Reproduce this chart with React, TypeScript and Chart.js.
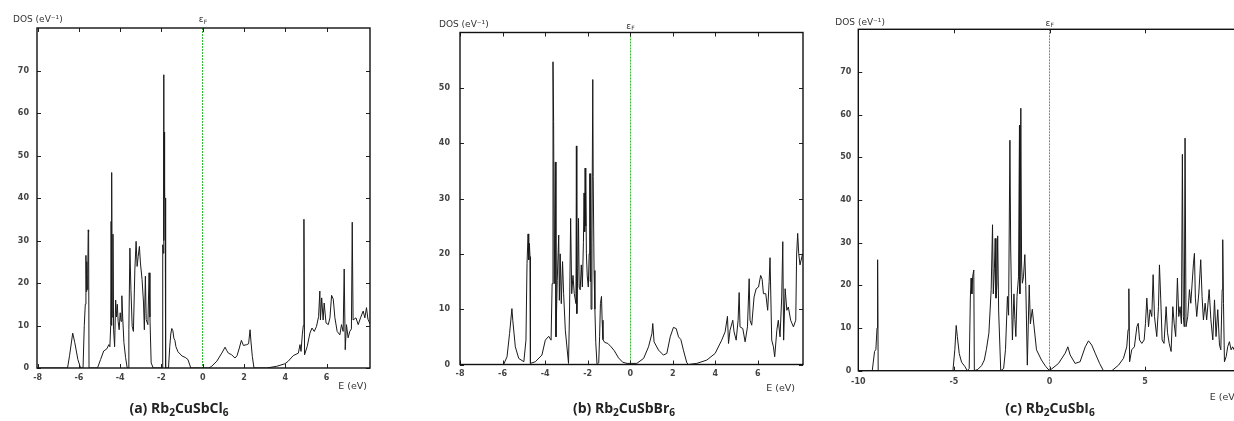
import React, { useEffect, useRef } from "react";
import { Chart, registerables } from "chart.js";

Chart.register(...registerables);

// ---------- Panel (a) Rb2CuSbCl6 ----------
const energyA = [
  -8, -6.55, -6.45, -6.3, -6.2, -6.05, -5.92, -5.8, -5.74, -5.69,
  -5.66, -5.64, -5.62, -5.6, -5.57, -5.55, -5.53, -5.51, -5.1, -4.95,
  -4.8, -4.65, -4.55, -4.5, -4.46, -4.44, -4.42, -4.405, -4.39, -4.35,
  -4.32, -4.27, -4.22, -4.18, -4.14, -4.1, -4.05, -4.0, -3.96, -3.92,
  -3.88, -3.82, -3.74, -3.66, -3.62, -3.58, -3.53, -3.48, -3.42, -3.36,
  -3.29, -3.23, -3.18, -3.13, -3.07, -3.02, -2.94, -2.87, -2.83, -2.78,
  -2.74, -2.66, -2.6, -2.56, -2.5, -2.4, -1.95, -1.94, -1.91, -1.895,
  -1.88, -1.87, -1.85, -1.82, -1.81, -1.79, -1.66, -1.6, -1.55, -1.5,
  -1.45, -1.4, -1.35, -1.3, -1.2, -1.0, -0.85, -0.72, -0.58, 0.3,
  0.43, 0.68, 0.92, 1.08, 1.16, 1.24, 1.4, 1.56, 1.66, 1.77,
  1.87, 1.97, 2.13, 2.22, 2.29, 2.34, 2.4, 2.48, 3.1, 3.58,
  3.98, 4.14, 4.38, 4.63, 4.71, 4.76, 4.82, 4.87, 4.9, 4.93,
  5.06, 5.19, 5.29, 5.4, 5.51, 5.61, 5.67, 5.7, 5.76, 5.83,
  5.88, 5.97, 6.08, 6.16, 6.24, 6.32, 6.4, 6.51, 6.64, 6.72,
  6.8, 6.85, 6.9, 6.96, 7.04, 7.12, 7.2, 7.24, 7.28, 7.42,
  7.53, 7.64, 7.77, 7.85, 7.93, 8.0, 8.1,
];
const dosA = [
  0, 0, 3, 8.2, 6, 2, 0, 0, 10, 15,
  26.5, 18, 25, 18.5, 22, 32.5, 32, 0, 0, 2,
  4, 4.5, 5.5, 5, 10, 34.5, 10, 46, 12, 31.5,
  9, 5, 16, 12, 15, 11, 9, 13, 11, 17,
  12, 6, 2.5, 0, 0, 9, 28.2, 18.4, 9.8, 8.6,
  23.1, 29.8, 23.9, 26.2, 28.6, 24.7, 20.8, 15.3, 9, 21.6,
  11.4, 10.2, 22.4, 12, 1.2, 0, 0, 29, 27, 69,
  30, 55.5, 40, 40, 28, 0, 0, 5, 8, 9.3,
  8.8, 7, 6.5, 5, 3.8, 2.8, 2.5, 2, 0, 0,
  0.4, 1.6, 3.5, 4.9, 4.1, 3.5, 3.1, 2.35, 2.9, 4.7,
  6.5, 5.3, 5.5, 5.7, 9, 5.9, 2.75, 0, 0, 0.4,
  1, 1.6, 2.9, 3.5, 5.5, 3.9, 7.8, 10, 35, 3.1,
  5.1, 8.2, 9.4, 8.6, 9.8, 12.1, 18.1, 11.3, 16.5, 11.3,
  15.3, 10.6, 10.2, 11.8, 17.1, 16.2, 11.8, 8.6, 7.8, 10.2,
  8.6, 23.3, 4.3, 10.2, 7.1, 8.6, 9.2, 34.3, 11.3, 11.8,
  10.2, 11.8, 13.4, 11.8, 14.2, 11.5, 10.4,
];

// ---------- Panel (b) Rb2CuSbBr6 ----------
const energyB = [
  -8, -5.95, -5.79, -5.67, -5.56, -5.52, -5.4, -5.24, -5.0, -4.9,
  -4.85, -4.8, -4.77, -4.74, -4.71, -4.69, -4.46, -4.15, -3.99, -3.83,
  -3.72, -3.67, -3.63, -3.6, -3.57, -3.52, -3.49, -3.43, -3.36, -3.33,
  -3.29, -3.24, -3.18, -3.13, -3.05, -2.9, -2.85, -2.8, -2.75, -2.69,
  -2.63, -2.55, -2.53, -2.51, -2.46, -2.43, -2.4, -2.35, -2.3, -2.25,
  -2.2, -2.17, -2.14, -2.12, -2.1, -2.08, -2.06, -2.02, -1.97, -1.93,
  -1.9, -1.88, -1.86, -1.84, -1.8, -1.76, -1.74, -1.7, -1.66, -1.62,
  -1.56, -1.48, -1.44, -1.4, -1.35, -1.32, -1.28, -1.2, -1.05, -0.9,
  -0.75, -0.55, -0.35, -0.15, 0.31, 0.63, 0.86, 1.02, 1.06, 1.12,
  1.33, 1.56, 1.72, 1.88, 2.03, 2.16, 2.27, 2.38, 2.5, 2.66,
  2.74, 3.13, 3.6, 3.99, 4.3, 4.46, 4.57, 4.62, 4.69, 4.82,
  4.88, 4.98, 5.07, 5.12, 5.16, 5.29, 5.4, 5.51, 5.59, 5.63,
  5.71, 5.82, 5.92, 6.03, 6.13, 6.2, 6.26, 6.37, 6.46, 6.53,
  6.57, 6.65, 6.73, 6.79, 6.89, 6.96, 7.04, 7.12, 7.17, 7.21,
  7.28, 7.36, 7.43, 7.54, 7.67, 7.78, 7.82, 7.87, 7.92, 7.98,
  8.1,
];
const dosB = [
  0, 0, 1.4, 5.6, 10.1, 8, 3.2, 1.1, 0.5, 4.4,
  18.3, 23.6, 18.9, 21.9, 19.5, 0.2, 0.5, 1.7, 4.4, 5.1,
  4.4, 14.6, 54.7, 43.9, 14.6, 36.6, 5, 15.2, 23.4, 11.6,
  20, 11, 18.6, 12.8, 6.2, 0.2, 10.4, 26.4, 12.8, 16.1,
  12.8, 11, 39.5, 9.2, 18, 26.4, 14, 13.5, 18, 14,
  22, 31, 24, 35.5, 25, 33, 20, 16, 14, 20,
  34.5, 15, 34.5, 10, 22, 51.5, 34, 17, 10, 4,
  0, 0.3, 5, 11, 12.3, 8, 4.5, 4, 3.8, 3.2,
  2.5, 1.2, 0.4, 0.2, 0.2, 1.1, 3.2, 5.6, 7.4, 4.1,
  2.6, 1.7, 2, 5, 6.7, 6.5, 5, 4.5, 2.6, 0.3,
  0, 0.2, 0.8, 2, 4.4, 5.9, 8.7, 3.8, 6.2, 8,
  5.9, 4.4, 8, 13, 6.8, 6.5, 4.1, 6.8, 15.5, 8,
  7.1, 12.2, 13.7, 14, 16.1, 15.4, 12.8, 12.8, 9.8, 15,
  19.3, 4.4, 3.2, 1.4, 6.2, 8, 5, 12.2, 22.2, 4.4,
  13.7, 9.8, 10.4, 8, 6.8, 8, 19.8, 23.7, 20, 18,
  20,
];

// ---------- Panel (c) Rb2CuSbI6 ----------
const energyC = [
  -10, -9.27, -9.15, -9.08, -9.02, -8.99, -8.96, -5.05, -4.95, -4.88,
  -4.82, -4.72, -4.6, -4.43, -4.3, -4.2, -4.14, -4.1, -4.06, -4.02,
  -3.96, -3.93, -3.75, -3.55, -3.41, -3.3, -3.17, -3.05, -2.98, -2.94,
  -2.88, -2.84, -2.8, -2.75, -2.71, -2.66, -2.55, -2.4, -2.3, -2.2,
  -2.14, -2.07, -2.03, -1.99, -1.94, -1.86, -1.81, -1.76, -1.7, -1.62,
  -1.57, -1.55, -1.5, -1.46, -1.42, -1.36, -1.29, -1.24, -1.16, -1.06,
  -1.0, -0.9, -0.8, -0.68, -0.42, -0.2, 0, 0.47, 0.82, 0.96,
  1.08, 1.34, 1.6, 1.87, 2.04, 2.21, 2.39, 2.62, 2.82, 3.26,
  3.61, 3.87, 4.04, 4.11, 4.15, 4.19, 4.3, 4.44, 4.57, 4.64,
  4.71, 4.83, 4.95, 5.02, 5.09, 5.18, 5.26, 5.35, 5.42, 5.49,
  5.61, 5.7, 5.75, 5.82, 5.89, 5.99, 6.1, 6.17, 6.26, 6.36,
  6.45, 6.52, 6.6, 6.69, 6.76, 6.83, 6.9, 6.95, 7.0, 7.05,
  7.09, 7.14, 7.23, 7.32, 7.39, 7.46, 7.53, 7.58, 7.63, 7.7,
  7.81, 7.91, 7.98, 8.05, 8.14, 8.22, 8.35, 8.44, 8.54, 8.63,
  8.71, 8.8, 8.89, 8.96, 9.03, 9.06, 9.1, 9.15, 9.24, 9.32,
  9.41, 9.5, 9.58, 9.7, 9.85, 10,
];
const dosC = [
  0, 0, 4.5, 5, 10, 26, 0, 0, 5, 10.6,
  8, 4, 2, 1, 0, 0.5, 17, 21.7, 18, 22,
  23.6, 0, 0.3, 1.2, 2.5, 5, 8.8, 19, 34.2, 18,
  24, 31, 17, 20, 31.6, 14, 0, 0.5, 5, 17.4,
  13, 54, 29, 18, 7.2, 18, 12, 8, 17.4, 22,
  57.5, 18, 61.5, 25, 20.5, 22, 27.2, 20, 1.3, 20.1,
  11, 14.4, 10, 4.9, 2.5, 1, 0, 1.7, 4.1, 5.6,
  3.7, 1.7, 2.1, 5.6, 7, 6, 4.1, 1.7, 0, 0,
  1.3, 2.9, 5.6, 9.6, 19.2, 2.1, 4.9, 5.6, 10.3, 11.1,
  7.2, 6.4, 7.2, 11.1, 17, 10.3, 14.3, 12.7, 22.5, 12.7,
  8, 15, 24.8, 16.6, 7.2, 6.4, 15, 9, 6.4, 4.5,
  15, 11.1, 8, 21.7, 12.7, 15, 11, 50.7, 12.7, 10.3,
  54.5, 10.3, 12.7, 19, 15.8, 20.5, 25.2, 27.5, 17, 12.7,
  18.2, 26, 17.4, 11.9, 15.8, 11.9, 19, 12, 7.2, 16.6,
  8, 14.3, 6, 4.9, 19, 30.7, 15.8, 2.1, 3.3, 5.6,
  6.8, 4.9, 5.6, 4.5, 6, 5,
];

// ---------- Tick labels ----------
const xTicksA = [-8, -6, -4, -2, 0, 2, 4, 6];
const yTicksA = [0, 10, 20, 30, 40, 50, 60, 70];
const xTicksB = [-8, -6, -4, -2, 0, 2, 4, 6];
const yTicksB = [0, 10, 20, 30, 40, 50];
const xTicksC = [-10, -5, 0, 5, 10];
const yTicksC = [0, 10, 20, 30, 40, 50, 60, 70];

const FONT = '"DejaVu Sans", Verdana, sans-serif';

type PanelCfg = {
  energies: number[];
  dos: number[];
  xMin: number;
  xMax: number;
  yMax: number;
  xTicks: number[];
  yTicks: number[];
  left: number;
  width: number;
  pad: { left: number; top: number; right: number; bottom: number };
  yAxisW: number;
  xAxisH: number;
  yLabelPad: number;
  xLabelPad: number;
  dosDx: number;
  dosDy: number;
  efDy: number;
  eDx: number;
  eDy: number;
  eAlign: CanvasTextAlign;
};

const panels: PanelCfg[] = [
  {
    energies: energyA, dos: dosA, xMin: -8.03, xMax: 8.1, yMax: 80,
    xTicks: xTicksA, yTicks: yTicksA, left: 0, width: 400,
    pad: { left: 0, top: 28, right: 30, bottom: 33 }, yAxisW: 37, xAxisH: 20,
    yLabelPad: 8, xLabelPad: 5, dosDx: -24, dosDy: -8, efDy: -8,
    eDx: -3, eDy: 19, eAlign: "right",
  },
  {
    energies: energyB, dos: dosB, xMin: -8, xMax: 8.12, yMax: 60,
    xTicks: xTicksB, yTicks: yTicksB, left: 410, width: 400,
    pad: { left: 0, top: 32.5, right: 7, bottom: 36.5 }, yAxisW: 50, xAxisH: 20,
    yLabelPad: 10, xLabelPad: 5, dosDx: -21, dosDy: -8, efDy: -6,
    eDx: -8, eDy: 24, eAlign: "right",
  },
  {
    energies: energyC, dos: dosC, xMin: -10, xMax: 10, yMax: 80,
    xTicks: xTicksC, yTicks: yTicksC, left: 820, width: 430,
    pad: { left: 0, top: 29.3, right: 9.3, bottom: 30.3 }, yAxisW: 38.3, xAxisH: 20,
    yLabelPad: 7, xLabelPad: 6, dosDx: -23, dosDy: -7, efDy: -6,
    eDx: -31, eDy: 27, eAlign: "left",
  },
];

const gnuFrame = {
  id: "gnuFrame",
  beforeDatasetsDraw(chart: any) {
    const { ctx, chartArea: a, scales } = chart;
    const fx = Math.floor(scales.x.getPixelForValue(0)) + 0.5;
    ctx.save();
    ctx.strokeStyle = "#33bb33";
    ctx.lineWidth = 1;
    ctx.setLineDash([2, 1]);
    ctx.beginPath();
    ctx.moveTo(fx, a.top);
    ctx.lineTo(fx, a.bottom);
    ctx.stroke();
    ctx.restore();
  },
  afterDraw(chart: any, _args: any, o: any) {
    const { ctx, chartArea: a, scales } = chart;
    const x = scales.x;
    const y = scales.y;
    const L = 4;
    ctx.save();
    ctx.strokeStyle = "#222";
    ctx.lineWidth = 1;
    ctx.beginPath();
    for (const t of x.ticks) {
      const px = Math.round(x.getPixelForValue(t.value)) + 0.5;
      ctx.moveTo(px, a.bottom);
      ctx.lineTo(px, a.bottom - L);
      ctx.moveTo(px, a.top);
      ctx.lineTo(px, a.top + L);
    }
    for (const t of y.ticks) {
      const py = Math.round(y.getPixelForValue(t.value)) + 0.5;
      ctx.moveTo(a.left, py);
      ctx.lineTo(a.left + L, py);
      ctx.moveTo(a.right, py);
      ctx.lineTo(a.right - L, py);
    }
    ctx.stroke();
    ctx.lineWidth = 1.4;
    ctx.strokeStyle = "#111";
    ctx.strokeRect(a.left, a.top, a.right - a.left, a.bottom - a.top);

    // axis texts
    ctx.fillStyle = "#333";
    ctx.textBaseline = "middle";
    ctx.textAlign = "left";
    ctx.font = `9px ${FONT}`;
    ctx.fillText("DOS (eV⁻¹)", a.left + o.dosDx, a.top + o.dosDy);

    const fx = x.getPixelForValue(0);
    ctx.font = `9px ${FONT}`;
    ctx.fillText("ε", fx - 4, a.top + o.efDy);
    ctx.font = `6px ${FONT}`;
    ctx.fillText("F", fx + 1, a.top + o.efDy + 2);

    ctx.font = `9.5px ${FONT}`;
    ctx.textAlign = o.eAlign;
    ctx.fillText("E (eV)", a.right + o.eDx, a.bottom + o.eDy);
    ctx.restore();
  },
};

function DosPanel({ cfg }: { cfg: PanelCfg }) {
  const ref = useRef<HTMLCanvasElement | null>(null);
  useEffect(() => {
    if (!ref.current) return;
    const points = cfg.energies.map((e, i) => ({ x: e, y: cfg.dos[i] }));
    const tickFont = { family: FONT, size: 8, weight: "bold" as const };
    const chart = new Chart(ref.current, {
      type: "line",
      data: {
        datasets: [
          {
            data: points,
            borderColor: "#1a1a1a",
            borderWidth: 1,
            pointRadius: 0,
            tension: 0,
            borderJoinStyle: "bevel",
            fill: false,
          },
        ],
      },
      options: {
        animation: false,
        responsive: false,
        devicePixelRatio: 1,
        layout: { padding: cfg.pad },
        plugins: {
          legend: { display: false },
          tooltip: { enabled: false },
          gnuFrame: {
            dosDx: cfg.dosDx, dosDy: cfg.dosDy, efDy: cfg.efDy,
            eDx: cfg.eDx, eDy: cfg.eDy, eAlign: cfg.eAlign,
          },
        } as any,
        scales: {
          x: {
            type: "linear",
            min: cfg.xMin,
            max: cfg.xMax,
            grid: { display: false, drawTicks: false },
            border: { display: false },
            ticks: {
              autoSkip: false,
              maxRotation: 0,
              padding: cfg.xLabelPad,
              color: "#444",
              font: tickFont,
              callback: (v: any) => String(v),
            },
            afterBuildTicks: (s: any) => {
              s.ticks = cfg.xTicks.map((v) => ({ value: v }));
            },
            afterFit: (s: any) => {
              s.height = cfg.xAxisH;
              s.paddingLeft = 0;
              s.paddingRight = 0;
              s.paddingTop = 0;
              s.paddingBottom = 0;
            },
          },
          y: {
            type: "linear",
            min: 0,
            max: cfg.yMax,
            grid: { display: false, drawTicks: false },
            border: { display: false },
            ticks: {
              padding: cfg.yLabelPad,
              color: "#444",
              font: tickFont,
              callback: (v: any) => String(v),
            },
            afterBuildTicks: (s: any) => {
              s.ticks = cfg.yTicks.map((v) => ({ value: v }));
            },
            afterFit: (s: any) => {
              s.width = cfg.yAxisW;
              s.paddingLeft = 0;
              s.paddingRight = 0;
              s.paddingTop = 0;
              s.paddingBottom = 0;
            },
          },
        },
      },
      plugins: [gnuFrame as any],
    });
    return () => chart.destroy();
  }, [cfg]);
  return (
    <canvas
      ref={ref}
      width={cfg.width}
      height={421}
      style={{ position: "absolute", left: cfg.left, top: 0, width: cfg.width, height: 421 }}
    />
  );
}

const subStyle: React.CSSProperties = { fontSize: "0.72em", verticalAlign: "-0.25em", lineHeight: 0 };

function Caption({ cx, label, halide }: { cx: number; label: string; halide: string }) {
  return (
    <div
      style={{
        position: "absolute",
        left: cx - 100,
        width: 200,
        top: 399,
        height: 18,
        lineHeight: "18px",
        textAlign: "center",
        fontFamily: '"Open Sans", "Noto Sans", sans-serif',
        fontWeight: 700,
        fontSize: 14,
        color: "#222",
        whiteSpace: "nowrap",
      }}
    >
      {label} Rb<span style={subStyle}>2</span>CuSb{halide}
      <span style={subStyle}>6</span>
    </div>
  );
}

export default function App() {
  return (
    <div
      style={{
        position: "absolute",
        left: 0,
        top: 0,
        width: 1234,
        height: 421,
        overflow: "hidden",
        background: "#fff",
      }}
    >
      {panels.map((p, i) => (
        <DosPanel key={i} cfg={p} />
      ))}
      <Caption cx={179} label="(a)" halide="Cl" />
      <Caption cx={624} label="(b)" halide="Br" />
      <Caption cx={1050} label="(c)" halide="I" />
    </div>
  );
}
